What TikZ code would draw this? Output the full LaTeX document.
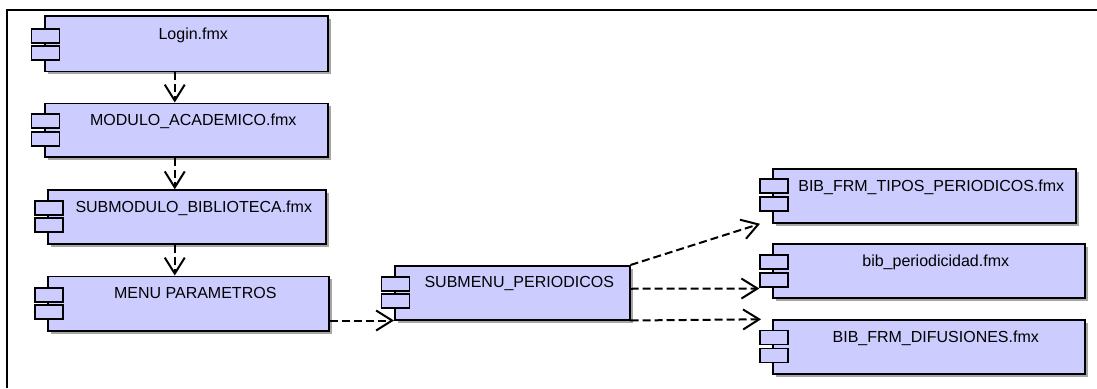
\documentclass[tikz,border=0pt]{standalone}
\usepackage{fontspec}
\setmainfont{Liberation Sans}
\usetikzlibrary{arrows.meta,shadows}
\definecolor{boxfill}{RGB}{204,204,255}
\tikzset{
  x=1pt,y=-1pt,
  compbox/.style={draw=black,line width=1.5pt,fill=boxfill,anchor=north west,inner sep=0pt,
    text height=22pt,text depth=32pt,font=\fontsize{16}{18}\selectfont,
    drop shadow={shadow xshift=3pt,shadow yshift=-3pt,fill=black!35,opacity=1}},
  portbox/.style={draw=black,line width=1.5pt,fill=boxfill,anchor=north west,inner sep=0pt,
    minimum width=28pt,minimum height=14pt},
  dep/.style={draw=black,line width=2pt,dash pattern=on 8pt off 4pt,
    -{Straight Barb[length=16pt,width=20pt,line width=2pt]}},
  frameline/.style={draw=black,line width=2pt}
}
\newcommand{\lbl}[1]{\hspace*{14pt}#1}
\begin{document}
\begin{tikzpicture}
\useasboundingbox (0,0) rectangle (1097,388);
\coordinate (f1) at (7,388);
\coordinate (f2) at (7,10);
\coordinate (f3) at (1097,10);
\draw[frameline] (f1) -- (f2) -- (f3);
% main boxes
\node[compbox,minimum width=283pt,text height=23.5pt,text depth=32pt] (login) at (44,15) {\lbl{Login.fmx}};
\node[compbox,minimum width=283pt,text depth=31.5pt] (modulo) at (44,102.5) {\lbl{MODULO\_ACADEMICO.fmx}};
\node[compbox,minimum width=278pt] (sub) at (47,189.3) {\lbl{SUBMODULO\_BIBLIOTECA.fmx}};
\node[compbox,minimum width=281pt,text depth=32.5pt] (menu) at (47,275.5) {\lbl{MENU PARAMETROS}};
\node[compbox,minimum width=235pt] (submenu) at (394,265) {\lbl{SUBMENU\_PERIODICOS}};
\node[compbox,minimum width=303pt] (tipos) at (772,168.3) {\lbl{BIB\_FRM\_TIPOS\_PERIODICOS.fmx}};
\node[compbox,minimum width=312pt] (perio) at (772,243.3) {\lbl{bib\_periodicidad.fmx}};
\node[compbox,minimum width=312pt] (difu) at (772,319.3) {\lbl{BIB\_FRM\_DIFUSIONES.fmx}};
% ports
\foreach \n/\px/\pa/\pb in {login/30.5/28/45,modulo/30.5/113/131,sub/34.3/200/217,menu/34.3/287/304,submenu/380.7/276/293,tipos/759.3/178/196,perio/759.3/254/272,difu/759.3/329.5/347.5}{
  \node[portbox] (\n p1) at (\px,\pa) {};
  \node[portbox] (\n p2) at (\px,\pb) {};
}
% connectors
\draw[dep] ([xshift=-11.5pt]login.south) -- ([xshift=-11.5pt]modulo.north);
\draw[dep] ([xshift=-11.5pt]modulo.south) -- ([xshift=-12pt]sub.north);
\draw[dep] ([xshift=-12pt]sub.south) -- ([xshift=-13.5pt]menu.north);
\draw[dep] ([yshift=11pt]menu.south east) -- (submenu.south west);
\draw[dep] (submenu.north east) -- ([xshift=-12pt]tipos.south west);
\draw[dep] ([yshift=4pt]submenu.east) -- ([yshift=-1pt]periop2.south west);
\draw[dep] (submenu.south east) -- ([xshift=-11pt]difu.north west);
\end{tikzpicture}
\end{document}
